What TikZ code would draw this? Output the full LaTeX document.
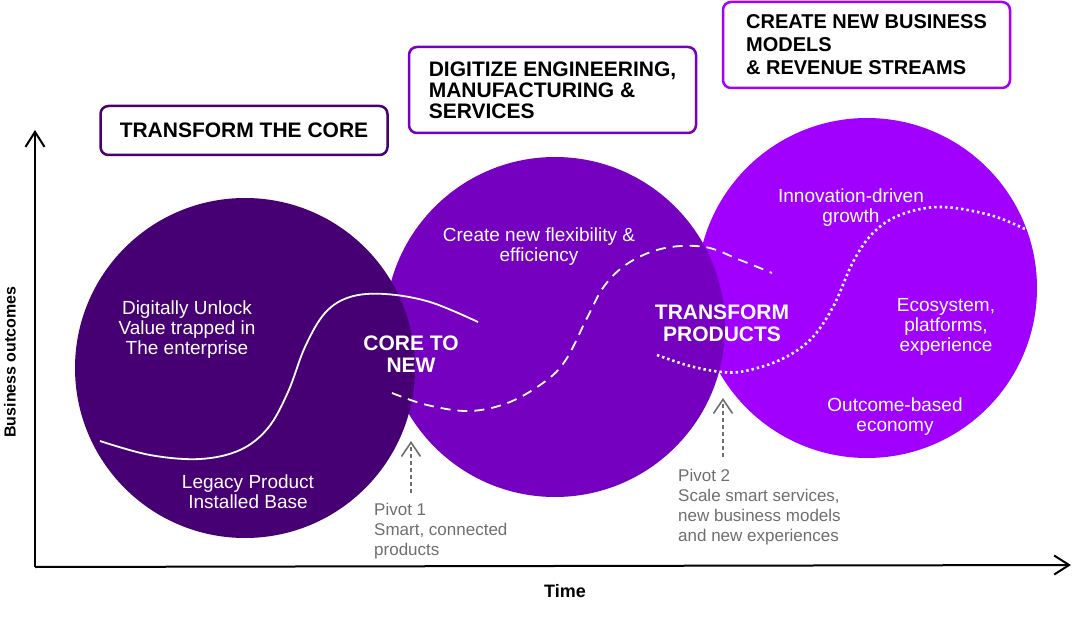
\documentclass[tikz,border=0pt]{standalone}
\usepackage{fontspec}
\setmainfont{Liberation Sans}
\usetikzlibrary{arrows.meta}
\definecolor{coredark}{HTML}{460073}
\definecolor{corepurple}{HTML}{7500C0}
\definecolor{brightpurple}{HTML}{A100FF}
\definecolor{pivotgray}{HTML}{6E6E6E}

\begin{document}
\begin{tikzpicture}[x=1pt,y=-1pt,
  bubble/.style={circle, minimum size=340pt, inner sep=0pt},
  header/.style={draw, line width=2.5pt, rounded corners=8pt, fill=white,
    minimum width=287pt, align=left, inner sep=0pt,
    font=\fontsize{21}{21}\selectfont\bfseries},
  intext/.style={text=white, align=center, inner sep=0pt,
    font=\fontsize{19}{20}\selectfont},
  inbold/.style={text=white, align=center, inner sep=0pt,
    font=\fontsize{21}{22}\selectfont\bfseries},
  pivottext/.style={text=pivotgray, align=left, anchor=north west, inner sep=0pt,
    font=\fontsize{17}{20}\selectfont},
  pivotarrow/.style={draw=pivotgray, line width=1.6pt, dash pattern=on 4pt off 3pt,
    -{Straight Barb[length=14pt,width=19pt]}},
  axis/.style={line width=2pt, -{Straight Barb[length=15pt,width=19pt]}},
  axislabel/.style={inner sep=0pt, font=\fontsize{16}{16}\selectfont\bfseries},
  sline/.style={white, line width=1.8pt},
]
\useasboundingbox (0,0) rectangle (1072,623);

% the three overlapping stages, later stages underneath
\node[bubble, fill=brightpurple] (c3) at (867,288) {};
\node[bubble, fill=corepurple]   (c2) at (555,327) {};
\node[bubble, fill=coredark]     (c1) at (245,368) {};

% S-curves of each stage
\draw[sline] plot[smooth, tension=0.6] coordinates {
  (100,441) (150,455) (200,459) (240,450) (268,428) (288,392) (305,347)
  (325,313) (350,297) (385,294) (430,302) (478,322)};
\draw[sline, dash pattern=on 10pt off 7pt] plot[smooth, tension=0.6] coordinates {
  (392,393) (427,405) (470,411) (510,402) (547,380) (567,358) (587,318)
  (605,285) (630,262) (665,248) (705,247) (740,260) (772,273)};
\draw[sline, line width=2.6pt, dash pattern=on 2.4pt off 3pt] plot[smooth, tension=0.6] coordinates {
  (657,355) (690,366) (722,372) (745,371) (780,360) (810,340) (833,307)
  (853,262) (873,233) (900,215) (940,207) (990,215) (1027,230)};

% labels inside the stages
\node[intext] (t1) at (187,330) {Digitally Unlock\\Value trapped in\\The enterprise};
\node[intext] (t2) at (248,492) {Legacy Product\\Installed Base};
\node[inbold] (t3) at (411,354) {CORE TO\\NEW};
\node[intext] (t4) at (539,247) {Create new flexibility \&\\efficiency};
\node[inbold] (t5) at (722,323) {TRANSFORM\\PRODUCTS};
\node[intext] (t6) at (851,208) {Innovation-driven\\growth};
\node[intext] (t7) at (946,327) {Ecosystem,\\platforms,\\experience};
\node[intext] (t8) at (895,417) {Outcome-based\\economy};

% stage headers
\node[header, draw=coredark, minimum height=49pt] (h1) at (244,130.5) {TRANSFORM THE CORE};
\node[header, draw=corepurple, minimum height=86pt] (h2) at (552.5,90)
  {DIGITIZE ENGINEERING,\\MANUFACTURING \&\\SERVICES};
\node[header, draw=brightpurple, minimum height=86pt,
  font=\fontsize{20}{23}\selectfont\bfseries] (h3) at (866.5,45)
  {CREATE NEW BUSINESS\\MODELS\\\& REVENUE STREAMS};

% pivots
\coordinate (p1a) at (411,493);
\coordinate (p1b) at (411,441);
\coordinate (p2a) at (723,457);
\coordinate (p2b) at (723,398);
\draw[pivotarrow] (p1a) -- (p1b);
\draw[pivotarrow] (p2a) -- (p2b);
\node[pivottext] (pv1) at (374,503) {Pivot 1\\Smart, connected\\products};
\node[pivottext] (pv2) at (678,469) {Pivot 2\\Scale smart services,\\new business models\\and new experiences};

% axes
\coordinate (origin) at (35,567);
\coordinate (ytip) at (35,130);
\coordinate (xtip) at (1071,565);
\draw[axis] (origin) -- (ytip);
\draw[axis] (origin) -- (xtip);
\node[axislabel, rotate=90] (ylab) at (10,362) {Business outcomes};
\node[axislabel, font=\fontsize{18}{18}\selectfont\bfseries] (xlab) at (565,591) {Time};
\end{tikzpicture}
\end{document}
